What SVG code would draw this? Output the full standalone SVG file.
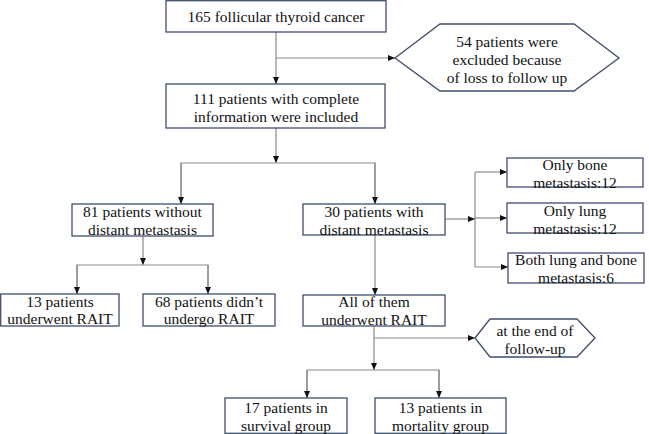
<svg xmlns="http://www.w3.org/2000/svg" width="649" height="434" viewBox="0 0 649 434">
<style>
.box{fill:#fff;stroke:#3f4d6e;stroke-width:1.3}
.t{font-family:"Liberation Serif","Times New Roman",serif;font-size:15.5px;fill:#111;text-anchor:middle}
.c{fill:none;stroke:#8a8a8a;stroke-width:1.2}
</style>
<defs>
<marker id="ah" markerUnits="userSpaceOnUse" markerWidth="7" markerHeight="6" refX="7" refY="3" orient="auto">
<path d="M0,0 L7,3 L0,6 z" fill="#111"/>
</marker>
</defs>
<rect width="649" height="434" fill="#fff"/>
<g id="connectors">
<path class="c" d="M276,32 V84" marker-end="url(#ah)"/>
<path class="c" d="M276,58 H395" marker-end="url(#ah)"/>
<path class="c" d="M276,128 V163" marker-end="url(#ah)"/>
<path class="c" d="M181,204 V163 H375 V204"/>
<path class="c" d="M181,163 V204" marker-end="url(#ah)"/>
<path class="c" d="M375,163 V204" marker-end="url(#ah)"/>
<path class="c" d="M143,236 V265" marker-end="url(#ah)"/>
<path class="c" d="M77,294 V265 H208 V294"/>
<path class="c" d="M77,265 V294" marker-end="url(#ah)"/>
<path class="c" d="M208,265 V294" marker-end="url(#ah)"/>
<path class="c" d="M445,219 H475" marker-end="url(#ah)"/>
<path class="c" d="M475,172 V267"/>
<path class="c" d="M475,172 H507" marker-end="url(#ah)"/>
<path class="c" d="M475,218 H507" marker-end="url(#ah)"/>
<path class="c" d="M475,267 H508" marker-end="url(#ah)"/>
<path class="c" d="M375,235 V295" marker-end="url(#ah)"/>
<path class="c" d="M374,326 V370" marker-end="url(#ah)"/>
<path class="c" d="M374,338 H475" marker-end="url(#ah)"/>
<path class="c" d="M307,398 V370 H439 V398"/>
<path class="c" d="M307,370 V398" marker-end="url(#ah)"/>
<path class="c" d="M439,370 V398" marker-end="url(#ah)"/>
</g>
<g id="n1"><rect class="box" x="166" y="0.7" width="220" height="31.3"/><text class="t" x="276" y="22">165 follicular thyroid cancer</text></g>
<g id="n2"><polygon class="box" points="395,58 440,24 574,24 619,58 574,91 440,91"/><text class="t" x="507" y="47">54 patients were</text><text class="t" x="507" y="65">excluded because</text><text class="t" x="507" y="83">of loss to follow up</text></g>
<g id="n3"><rect class="box" x="166" y="84" width="219" height="44"/><text class="t" x="276" y="104">111 patients with complete</text><text class="t" x="276" y="122">information were included</text></g>
<g id="n4"><rect class="box" x="72" y="204" width="141" height="32"/><text class="t" x="142.5" y="217">81 patients without</text><text class="t" x="142.5" y="235">distant metastasis</text></g>
<g id="n5"><rect class="box" x="303" y="204" width="142" height="31"/><text class="t" x="374" y="217">30 patients with</text><text class="t" x="374" y="235">distant metastasis</text></g>
<g id="n6"><rect class="box" x="507" y="158" width="136" height="29"/><text class="t" x="575" y="170">Only bone</text><text class="t" x="575" y="188">metastasis:12</text></g>
<g id="n7"><rect class="box" x="507" y="203" width="136" height="30"/><text class="t" x="575" y="216">Only lung</text><text class="t" x="575" y="234">metastasis:12</text></g>
<g id="n8"><rect class="box" x="508" y="253" width="136" height="30"/><text class="t" x="576" y="265">Both lung and bone</text><text class="t" x="576" y="283">metastasis:6</text></g>
<g id="n9"><rect class="box" x="0.7" y="294" width="118.3" height="32"/><text class="t" x="60" y="307">13 patients</text><text class="t" x="60" y="324">underwent RAIT</text></g>
<g id="n10"><rect class="box" x="143" y="294" width="132" height="32"/><text class="t" x="209" y="307">68 patients didn’t</text><text class="t" x="209" y="324">undergo RAIT</text></g>
<g id="n11"><rect class="box" x="303" y="295" width="142" height="31"/><text class="t" x="374" y="307">All of them</text><text class="t" x="374" y="325">underwent RAIT</text></g>
<g id="n12"><polygon class="box" points="475,338 490,319 577,319 595,338 577,357 490,357"/><text class="t" x="535" y="336">at the end of</text><text class="t" x="535" y="354">follow-up</text></g>
<g id="n13"><rect class="box" x="225" y="398" width="122" height="35.3"/><text class="t" x="286" y="413">17 patients in</text><text class="t" x="286" y="431">survival group</text></g>
<g id="n14"><rect class="box" x="375" y="398" width="131" height="35.3"/><text class="t" x="440.5" y="413">13 patients in</text><text class="t" x="440.5" y="431">mortality group</text></g>
</svg>
